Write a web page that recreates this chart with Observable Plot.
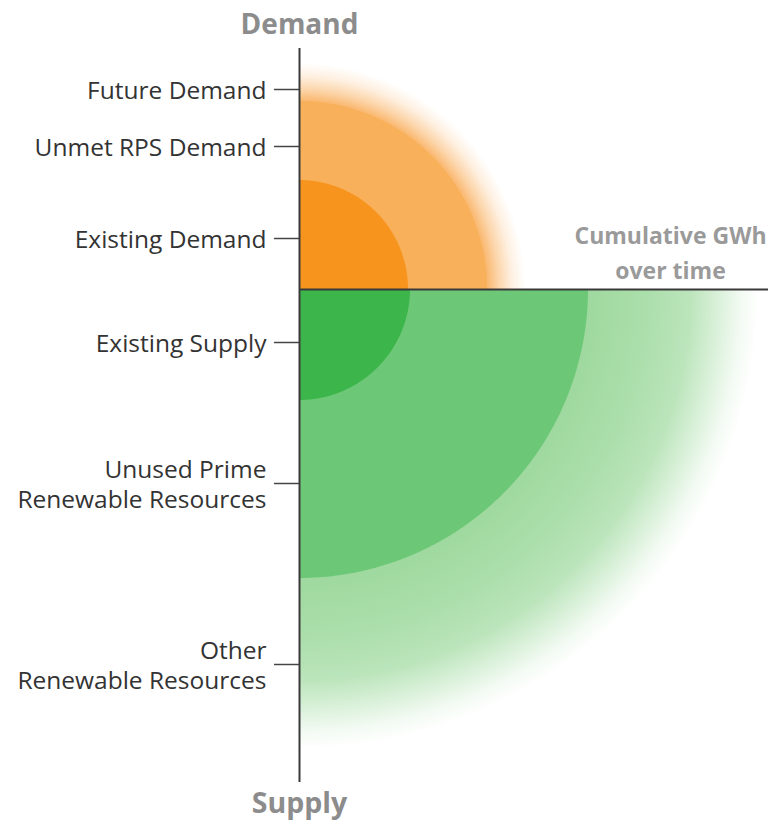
<!DOCTYPE html>
<html>
<head>
<meta charset="utf-8">
<script src="https://cdn.jsdelivr.net/npm/d3@7"></script>
<script src="https://cdn.jsdelivr.net/npm/@observablehq/plot@0.6"></script>
<style>
  html, body { margin: 0; padding: 0; background: #fff; overflow: hidden; }
</style>
</head>
<body>
<div id="chart"></div>
<script>
// Tick labels on the vertical axis and their positions (cumulative GWh units, demand up, supply down)
const tickLabels = [
  "Future Demand",
  "Unmet RPS Demand",
  "Existing Demand",
  "Existing Supply",
  "Unused Prime\nRenewable Resources",
  "Other\nRenewable Resources"
];
const tickValues = [200, 143, 51, -53, -194, -375];

// Quarter-circle bands (drawn outermost first)
const bandNames  = ["Future Demand", "Unmet RPS Demand", "Existing Demand", "Other Renewable Resources", "Unused Prime Renewable Resources", "Existing Supply"];
const bandRadius = [226, 188, 109, 460, 289, 111];
const bandSide   = [1, 1, 1, -1, -1, -1];
const bandFill   = ["url(#orangeGlow)", "#f9b05b", "#f7941e", "url(#greenFade)", "#6cc877", "#3cb54a"];

// Fade profile of the two soft outer bands
const greenFadeStart = 289;
const orangeGlowStart = 188;

function arcPoints(r, side) {
  const n = 180;
  return d3.range(n + 1).map(i => {
    const t = (i / n) * Math.PI / 2;
    return {x: r * Math.cos(t), y: side * r * Math.sin(t)};
  });
}

const labelMap = new Map(tickValues.map((v, i) => [v, tickLabels[i]]));

const plot = Plot.plot({
  width: 782,
  height: 821,
  marginLeft: 299,
  marginRight: 0,
  marginTop: 48,
  marginBottom: 39,
  x: {domain: [0, 483], axis: null},
  y: {domain: [-493, 241], axis: null},
  style: {fontFamily: "'Open Sans', sans-serif", fontSize: "24.5px", background: "#fff", color: "#333"},
  marks: [
    ...bandRadius.map((r, i) =>
      Plot.areaY(arcPoints(r, bandSide[i]), {x: "x", y1: 0, y2: "y", fill: bandFill[i], curve: "linear", title: () => bandNames[i]})
    ),
    Plot.ruleY([0], {x1: 0, x2: 469, stroke: "#3a3a3a", strokeWidth: 2}),
    Plot.ruleX([0], {y1: -493, y2: 241, stroke: "#3a3a3a", strokeWidth: 2}),
    Plot.axisY(tickValues, {
      anchor: "left",
      tickSize: 25,
      tickPadding: 8,
      tickFormat: d => labelMap.get(d),
      label: null,
      stroke: "#444",
      strokeWidth: 1.5,
      fill: "#333",
      fontSize: 24.5,
      lineHeight: 1.24
    }),
    Plot.text(["Demand"], {x: 0, frameAnchor: "top", dy: -15, lineAnchor: "bottom", text: d => d, fontSize: 28, fontWeight: "bold", fill: "#8c8c8c"}),
    Plot.text(["Supply"], {x: 0, frameAnchor: "bottom", dy: 30, lineAnchor: "bottom", text: d => d, fontSize: 28.5, fontWeight: "bold", fill: "#8c8c8c"}),
    Plot.text(["Cumulative GWh\nover time"], {x: 371, y: 0, dy: -11, lineAnchor: "bottom", lineHeight: 1.48, text: d => d, fontSize: 23, fontWeight: "bold", fill: "#9a9a9a"})
  ]
});

// Gradient definitions for the soft outer bands, placed at the origin through the plot's scales
const xs = plot.scale("x"), ys = plot.scale("y");
const cx = xs.apply(0), cy = ys.apply(0);
const k = Math.abs(xs.apply(1) - xs.apply(0));
const defs = d3.select(plot).insert("defs", ":first-child");

const gR = bandRadius[3] * k;
const g = defs.append("radialGradient").attr("id", "greenFade").attr("gradientUnits", "userSpaceOnUse")
  .attr("cx", cx).attr("cy", cy).attr("r", gR);
const g0 = greenFadeStart / bandRadius[3];
[[0, "#9fd99f", 1], [g0, "#9fd99f", 1], [0.75, "#a6dca6", 0.95], [0.85, "#a8dda8", 0.78], [0.91, "#aadeaa", 0.45], [0.96, "#aadeaa", 0.15], [1, "#aadeaa", 0]]
  .forEach(([o, c, a]) => g.append("stop").attr("offset", o).attr("stop-color", c).attr("stop-opacity", a));

const oR = bandRadius[0] * k;
const og = defs.append("radialGradient").attr("id", "orangeGlow").attr("gradientUnits", "userSpaceOnUse")
  .attr("cx", cx).attr("cy", cy).attr("r", oR);
const o0 = orangeGlowStart / bandRadius[0];
[[0, 0.85], [o0, 0.85], [o0 + (1 - o0) * 0.3, 0.5], [o0 + (1 - o0) * 0.65, 0.18], [1, 0]]
  .forEach(([o, a]) => og.append("stop").attr("offset", o).attr("stop-color", "#f9ab55").attr("stop-opacity", a));

document.getElementById("chart").appendChild(plot);
</script>
</body>
</html>
